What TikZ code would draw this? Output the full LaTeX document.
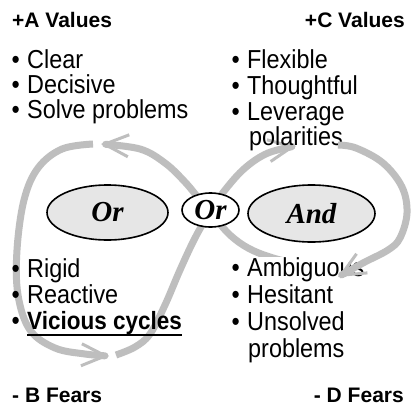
\documentclass[tikz,border=0pt]{standalone}
\usepackage{fontspec}
\setmainfont{Liberation Sans}
\newfontfamily\narrowsans{Liberation Sans}[FakeStretch=0.9]
\newfontfamily\serifbi{Liberation Serif}
\usetikzlibrary{arrows.meta,shapes.geometric}
\definecolor{bandgray}{HTML}{BEBEBE}
\definecolor{ellfill}{HTML}{E6E6E6}
\newcommand\bul{\makebox[15.5pt][l]{•}}
\newcommand\myul[1]{\setbox0\hbox{#1}\rlap{\rule[-7pt]{\wd0}{2.3pt}}\box0}
\begin{document}
\begin{tikzpicture}[x=1pt,y=-1pt,
  bandline/.style={draw=bandgray, line width=7pt, line join=round,
    -{Straight Barb[length=24pt,width=22pt,line width=3pt]}},
  oval/.style={ellipse, draw=black, line width=1.6pt, inner sep=0pt},
  ovaltext/.style={font=\serifbi\bfseries\itshape\fontsize{29}{30}\selectfont},
  txt/.style={inner sep=0pt, font=\narrowsans\fontsize{26}{27}\selectfont},
  head/.style={inner sep=0pt, font=\bfseries\fontsize{21}{23}\selectfont}]
\fill[white] (0,0) rectangle (416,408);
\useasboundingbox (0,0) rectangle (416,408);
% figure-eight band
\draw[bandline] plot[smooth, tension=0.6] coordinates {(116,355) (135,347) (150,334) (165,305) (180,270) (195,238) (210,212) (225,190) (245,168) (268,153) (296,146)};
\draw[bandline] plot[smooth, tension=0.6] coordinates {(326,271) (300,265) (270,257) (248,248) (230,235) (215,218) (200,200) (185,182) (165,163) (140,149) (101,144)};
\draw[bandline] plot[smooth, tension=0.6] coordinates {(93,144) (62,149) (38,168) (24,200) (17,250) (18,295) (30,330) (55,348) (85,354) (109,356)};
% ellipses
\node[oval, fill=ellfill, minimum width=121pt, minimum height=55pt, ovaltext] (orl) at (107.5,212.5) {Or};
\node[oval, fill=white, minimum width=57pt, minimum height=34pt, ovaltext] (orm) at (210.5,210) {Or};
\node[oval, fill=ellfill, minimum width=127pt, minimum height=57pt, ovaltext] (and) at (311.5,213.5) {And};
% headings
\node[head, anchor=base west] (ha) at (12,27) {+A Values};
\node[head, anchor=base east] (hc) at (405,27) {+C Values};
\node[head, anchor=base west] (hb) at (12,402) {- B Fears};
\node[head, anchor=base east] (hd) at (404,402) {- D Fears};
% lists
\node[txt, anchor=base west] (a1) at (11.5,68) {\bul Clear};
\node[txt, anchor=base west] (a2) at (11.5,93) {\bul Decisive};
\node[txt, anchor=base west] (a3) at (11.5,118) {\bul Solve problems};
\node[txt, anchor=base west] (c1) at (231.5,68) {\bul Flexible};
\node[txt, anchor=base west] (c2) at (231.5,94) {\bul Thoughtful};
\node[txt, anchor=base west] (c3) at (231.5,120) {\bul Leverage};
\node[txt, anchor=base west] (c4) at (249,145) {polarities};
\node[txt, anchor=base west] (b1) at (11.5,277) {\bul Rigid};
\node[txt, anchor=base west] (b2) at (11.5,303) {\bul Reactive};
\node[txt, anchor=base west] (b3) at (11.5,329) {\bul{\bfseries\fontsize{25}{26}\selectfont\myul{Vicious cycles}}};
\node[txt, anchor=base west, fill=white] (d1) at (231.5,276) {\bul Ambiguous};
\node[txt, anchor=base west] (d2) at (231.5,303) {\bul Hesitant};
\node[txt, anchor=base west] (d3) at (231.5,330) {\bul Unsolved};
\node[txt, anchor=base west] (d4) at (248,357) {problems};
\draw[bandline] plot[smooth, tension=0.6] coordinates {(338,145) (356,148) (383,163) (402,187) (407,213) (400,238) (388,250) (363,263) (338,277)};
\end{tikzpicture}
\end{document}
